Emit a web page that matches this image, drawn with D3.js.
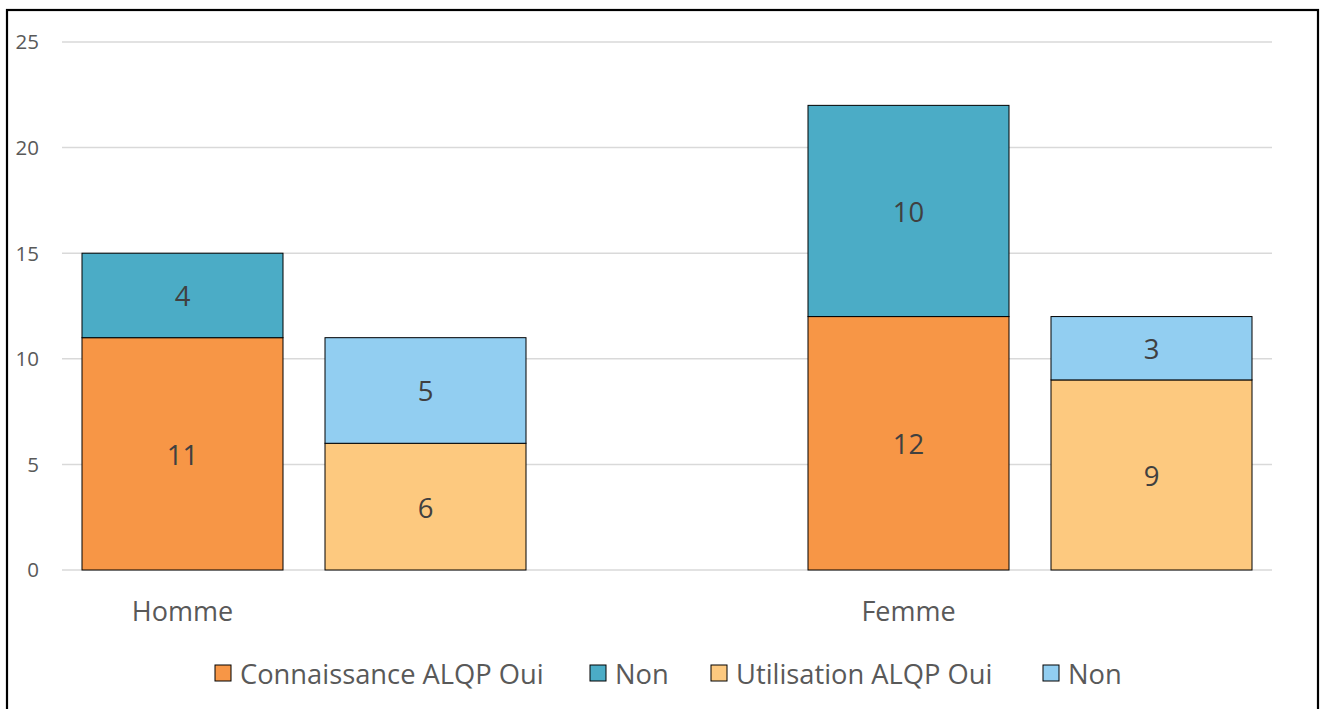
<!DOCTYPE html>
<html><head><meta charset="utf-8">
<script src="https://cdn.jsdelivr.net/npm/d3@7"></script>
<style>body{margin:0;background:#fff;}svg{display:block;font-family:"Open Sans","Noto Sans",sans-serif;}</style>
</head><body>
<svg id="c" width="1322" height="709"></svg>
<script>
(function(){
const categories = ["Homme", "Femme"];
const groups = ["Connaissance ALQP", "Utilisation ALQP"];
const connaissanceOui = [11, 12];
const connaissanceNon = [4, 10];
const utilisationOui = [6, 9];
const utilisationNon = [5, 3];
const yTicks = [0, 5, 10, 15, 20, 25];
const legendLabels = ["Connaissance ALQP Oui", "Non", "Utilisation ALQP Oui", "Non"];
const colors = ["#F79646", "#4BACC6", "#FDC97F", "#92CEF1"];

const svg = d3.select("#c");
svg.append("rect").attr("x", 7).attr("y", 10).attr("width", 1311).attr("height", 740)
  .attr("fill", "#fff").attr("stroke", "#000").attr("stroke-width", 2.2);

const pLeft = 62, pRight = 1272, pTop = 42, pBottom = 570;
const y = d3.scaleLinear().domain([0, 25]).range([pBottom, pTop]);
const x0 = d3.scaleBand().domain(categories).range([pLeft, pRight])
  .paddingInner(282 / 726).paddingOuter(20 / 726);
const x1 = d3.scaleBand().domain(groups).range([0, x0.bandwidth()]).paddingInner(42 / 243);

// grid
svg.append("g").selectAll("line").data(yTicks).join("line")
  .attr("x1", pLeft).attr("x2", pRight).attr("y1", d => y(d)).attr("y2", d => y(d))
  .attr("stroke", "#d9d9d9").attr("stroke-width", 1.5);
svg.append("g").selectAll("text").data(yTicks).join("text")
  .attr("x", 39).attr("y", d => y(d)).attr("dy", "0.36em").attr("text-anchor", "end")
  .attr("font-size", 20.5).attr("fill", "#595959").text(d => d);

// stacks
const stacks = [
  { group: groups[0], segs: [connaissanceOui, connaissanceNon], col: [0, 1] },
  { group: groups[1], segs: [utilisationOui, utilisationNon], col: [2, 3] }
];
const barG = svg.append("g");
categories.forEach((cat, ci) => {
  stacks.forEach(s => {
    let base = 0;
    s.segs.forEach((arr, si) => {
      const v = arr[ci];
      const bx = x0(cat) + x1(s.group);
      barG.append("rect").attr("x", bx).attr("width", x1.bandwidth())
        .attr("y", y(base + v)).attr("height", y(base) - y(base + v))
        .attr("fill", colors[s.col[si]]).attr("stroke", "#000").attr("stroke-width", 1);
      barG.append("text").attr("x", bx + x1.bandwidth() / 2).attr("y", y(base + v / 2) + 1)
        .attr("dy", "0.36em").attr("text-anchor", "middle").attr("font-size", 27.5)
        .attr("fill", "#404040").text(v);
      base += v;
    });
  });
});

// category labels
svg.append("g").selectAll("text").data(categories).join("text")
  .attr("x", d => x0(d) + x1(groups[0]) + x1.bandwidth() / 2).attr("y", 611)
  .attr("dy", "0.36em").attr("text-anchor", "middle").attr("font-size", 27)
  .attr("fill", "#595959").text(d => d);

// legend
const legX = [215, 590, 711, 1043];
const lg = svg.append("g");
legendLabels.forEach((t, i) => {
  lg.append("rect").attr("x", legX[i]).attr("y", 665).attr("width", 16).attr("height", 16)
    .attr("fill", colors[i]).attr("stroke", "#000").attr("stroke-width", 1);
  lg.append("text").attr("x", legX[i] + 25).attr("y", 674).attr("dy", "0.36em")
    .attr("font-size", 27.3).attr("fill", "#595959").text(t);
});
})();
</script>
</body></html>
